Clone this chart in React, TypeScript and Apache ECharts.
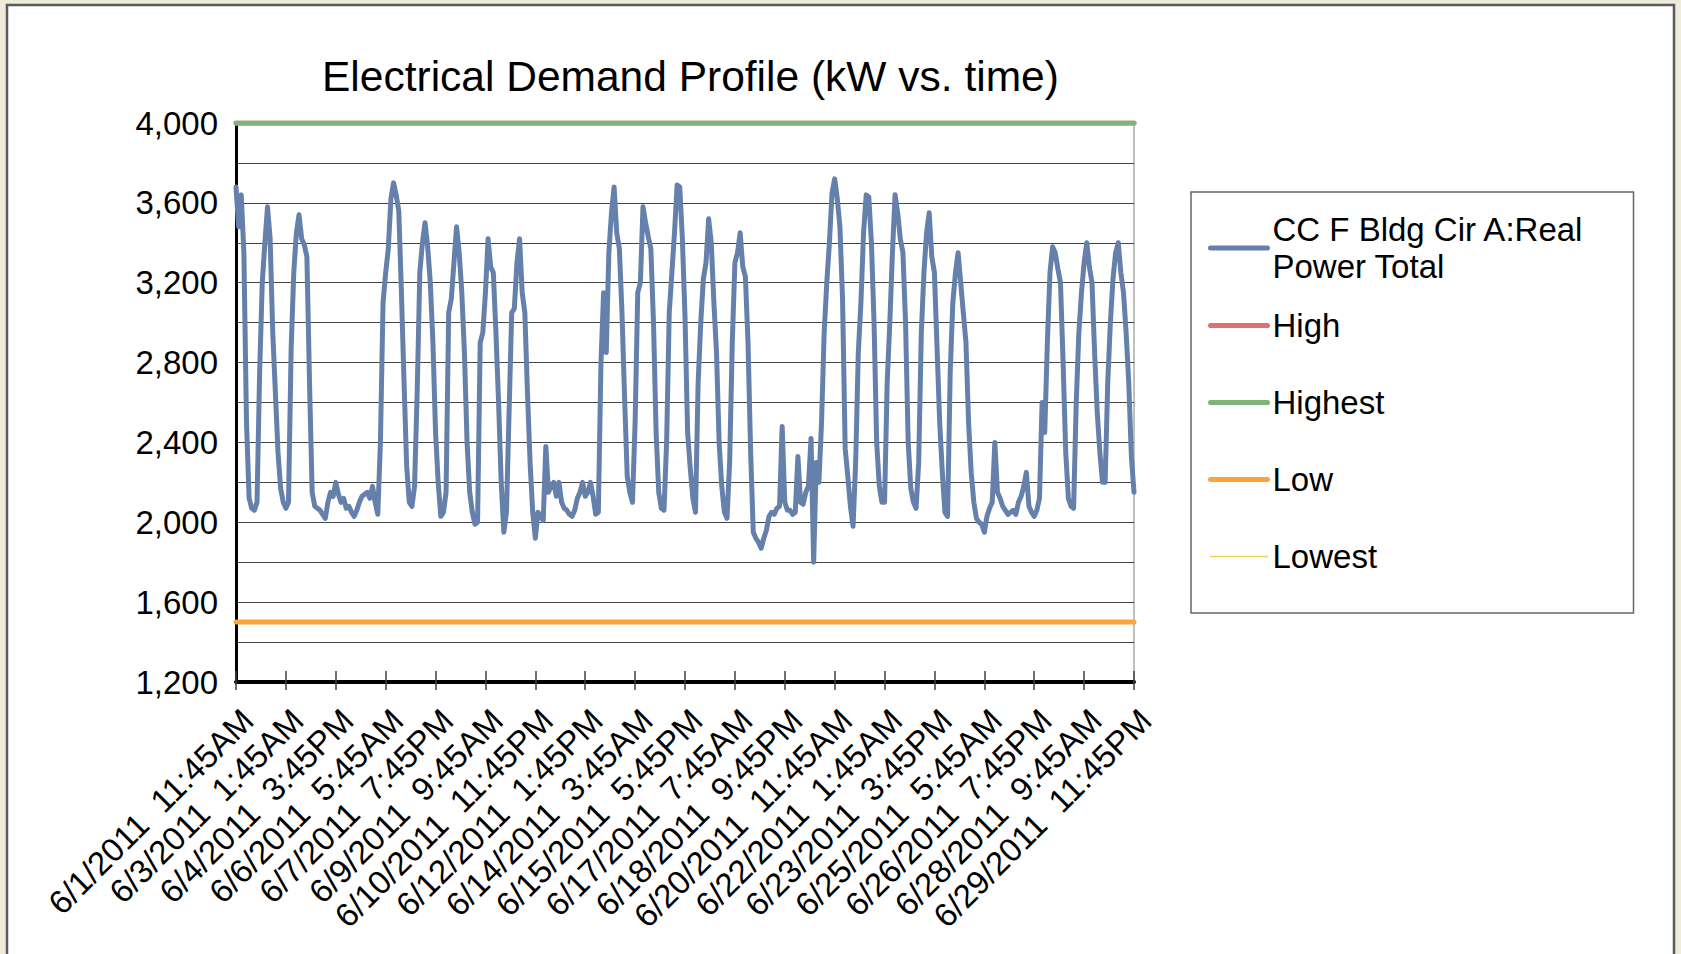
import React, { useEffect, useRef } from 'react';
import * as echarts from 'echarts';

// ---------- data (kW, 2-hour samples) ----------
// 6/1 starts at 11:45AM; every other day runs 1:45AM ... 11:45PM
const JUN01 = [3680, 3480, 3640, 3350, 2500, 2120, 2070];
const JUN02 = [2060, 2100, 2750, 3200, 3400, 3580, 3420, 2950, 2650, 2350, 2170, 2100];
const JUN03 = [2070, 2100, 2870, 3250, 3450, 3540, 3420, 3390, 3330, 2700, 2150, 2080];
const JUN04 = [2070, 2060, 2040, 2020, 2100, 2150, 2130, 2200, 2140, 2100, 2120, 2070];
const JUN05 = [2080, 2050, 2030, 2060, 2100, 2130, 2140, 2150, 2120, 2180, 2100, 2040];
const JUN06 = [2400, 3100, 3250, 3370, 3620, 3700, 3640, 3560, 3150, 2700, 2280, 2100];
const JUN07 = [2080, 2180, 2650, 3250, 3400, 3500, 3380, 3200, 2900, 2450, 2200, 2030];
const JUN08 = [2050, 2150, 3050, 3120, 3300, 3480, 3350, 3150, 2850, 2400, 2150, 2050];
const JUN09 = [1990, 2000, 2900, 2950, 3150, 3420, 3280, 3250, 2950, 2600, 2200, 1950];
const JUN10 = [2050, 2550, 3050, 3070, 3300, 3420, 3150, 3050, 2650, 2300, 2050, 1920];
const JUN11 = [2050, 2030, 2010, 2380, 2150, 2180, 2200, 2130, 2200, 2100, 2070, 2060];
const JUN12 = [2040, 2030, 2060, 2120, 2150, 2200, 2130, 2150, 2200, 2130, 2040, 2050];
const JUN13 = [2800, 3150, 2850, 3350, 3550, 3680, 3450, 3370, 3050, 2620, 2230, 2150];
const JUN14 = [2100, 2500, 3150, 3200, 3580, 3500, 3430, 3370, 3000, 2450, 2150, 2070];
const JUN15 = [2060, 2400, 3050, 3250, 3450, 3690, 3680, 3420, 3030, 2450, 2270, 2120];
const JUN16 = [2050, 2700, 3000, 3220, 3300, 3520, 3400, 3100, 2850, 2400, 2180, 2050];
const JUN17 = [2020, 2300, 2900, 3300, 3350, 3450, 3280, 3230, 2900, 2350, 1950, 1920];
const JUN18 = [1900, 1870, 1920, 1960, 2030, 2050, 2040, 2070, 2080, 2480, 2100, 2060];
const JUN19 = [2060, 2040, 2050, 2330, 2100, 2090, 2150, 2180, 2420, 1800, 2300, 2200];
const JUN20 = [2500, 2950, 3200, 3400, 3650, 3720, 3620, 3480, 3120, 2370, 2230, 2080];
const JUN21 = [1980, 2300, 2850, 3100, 3450, 3640, 3630, 3400, 3000, 2400, 2180, 2100];
const JUN22 = [2100, 2700, 3000, 3350, 3640, 3550, 3420, 3350, 3000, 2400, 2170, 2100];
const JUN23 = [2070, 2300, 2950, 3250, 3450, 3550, 3330, 3250, 2870, 2500, 2250, 2050];
const JUN24 = [2030, 2750, 3100, 3250, 3350, 3200, 3050, 2900, 2500, 2250, 2100, 2020];
const JUN25 = [2000, 1990, 1950, 2030, 2070, 2100, 2400, 2150, 2120, 2080, 2060, 2040];
const JUN26 = [2050, 2060, 2040, 2100, 2130, 2180, 2250, 2080, 2050, 2030, 2060, 2120];
const JUN27 = [2600, 2450, 2900, 3250, 3380, 3350, 3270, 3200, 2800, 2350, 2120, 2080];
const JUN28 = [2070, 2600, 2950, 3150, 3300, 3400, 3280, 3200, 2850, 2550, 2350, 2200];
const JUN29 = [2200, 2700, 3000, 3220, 3350, 3400, 3250, 3150, 2950, 2700, 2330, 2150];

const REAL_POWER_KW = [
  ...JUN01, ...JUN02, ...JUN03, ...JUN04, ...JUN05, ...JUN06, ...JUN07, ...JUN08,
  ...JUN09, ...JUN10, ...JUN11, ...JUN12, ...JUN13, ...JUN14, ...JUN15, ...JUN16,
  ...JUN17, ...JUN18, ...JUN19, ...JUN20, ...JUN21, ...JUN22, ...JUN23, ...JUN24,
  ...JUN25, ...JUN26, ...JUN27, ...JUN28, ...JUN29,
];

// threshold levels (kW)
const HIGH_KW = 4000;
const HIGHEST_KW = 4000;
const LOW_KW = 1500;
const LOWEST_KW = 1500;

// time categories: start 6/1/2011 11:45AM, 2-hour step
const START_MINUTE = 11 * 60 + 45;
const STEP_MINUTES = 120;
const LABEL_EVERY = 19; // one tick label every 38 hours

const Y_MIN = 1200;
const Y_MAX = 4000;
const Y_GRID_STEP = 200;
const Y_LABEL_STEP = 400;

const MAIN_NAME = 'CC F Bldg Cir A:Real Power Total';
const TITLE = 'Electrical Demand Profile (kW vs. time)';

function timeLabel(k: number): string {
  const t = START_MINUTE + k * STEP_MINUTES;
  const day = 1 + Math.floor(t / 1440);
  const m = t % 1440;
  const h = Math.floor(m / 60);
  const mm = m % 60;
  const ampm = h < 12 ? 'AM' : 'PM';
  const h12 = h % 12 === 0 ? 12 : h % 12;
  return `6/${day}/2011  ${h12}:${String(mm).padStart(2, '0')}${ampm}`;
}

const CATEGORIES = REAL_POWER_KW.map((_, k) => timeLabel(k));

const FONT = '"Liberation Sans", Arial, Helvetica, sans-serif';
const BLUE = '#6580AA';
const RED = '#E0716E';
const GREEN = '#80B476';
const ORANGE = '#F9A53C';
const YELLOW = '#E8D44D';
const THICK = 5;

export default function App() {
  const ref = useRef<HTMLDivElement>(null);

  useEffect(() => {
    if (!ref.current) return;
    const chart = echarts.init(ref.current, null, { renderer: 'svg' });

    const lineSeries = (name: string, data: number[], color: string, width: number, z: number) => ({
      name,
      type: 'line',
      data,
      symbol: 'none',
      z,
      lineStyle: { color, width, cap: 'round', join: 'round' },
      itemStyle: { color },
      emphasis: { disabled: true },
    });

    const xTickStyle = { color: '#404040', width: 1.5 };

    chart.setOption({
      animation: false,
      backgroundColor: '#EFEBDA',
      textStyle: { fontFamily: FONT },
      graphic: [
        {
          type: 'rect',
          z: -10,
          silent: true,
          shape: { x: 7, y: 5, width: 1667, height: 1000 },
          style: { fill: '#ffffff', stroke: '#5a5a5a', lineWidth: 2.5 },
        },
      ],
      title: {
        text: TITLE,
        left: 317,
        top: 50,
        textStyle: { fontFamily: FONT, fontSize: 42.5, fontWeight: 'normal', color: '#000' },
      },
      legend: {
        orient: 'vertical',
        left: 1191,
        top: 192,
        padding: [19, 16, 20, 17],
        itemWidth: 57,
        itemHeight: 2,
        itemGap: 4,
        backgroundColor: '#ffffff',
        borderColor: '#666666',
        borderWidth: 1.5,
        selectedMode: false,
        itemStyle: { opacity: 0 },
        lineStyle: { width: THICK, cap: 'round' },
        textStyle: { fontFamily: FONT, fontSize: 33, color: '#000', width: 345, lineHeight: 73 },
        formatter: (n: string) => (n === MAIN_NAME ? 'CC F Bldg Cir A:Real\nPower Total' : n),
        data: [
          { name: MAIN_NAME, textStyle: { lineHeight: 37 } },
          { name: 'High' },
          { name: 'Highest' },
          { name: 'Low' },
          { name: 'Lowest', lineStyle: { width: 1.3 } },
        ],
      },
      grid: {
        left: 236,
        right: 547,
        top: 123,
        bottom: 272,
        show: true,
        borderColor: '#808080',
        borderWidth: 1,
        backgroundColor: 'transparent',
      },
      xAxis: [
        {
          type: 'category',
          data: CATEGORIES,
          boundaryGap: false,
          axisLine: { show: true, lineStyle: { color: '#000', width: 4 } },
          axisTick: { show: true, interval: LABEL_EVERY - 1, length: 8, lineStyle: xTickStyle },
          axisLabel: {
            interval: LABEL_EVERY - 1,
            rotate: 45,
            fontSize: 33,
            color: '#000',
            fontFamily: FONT,
            margin: 21,
            verticalAlign: 'top',
          },
          splitLine: { show: false },
        },
        {
          type: 'category',
          data: CATEGORIES,
          boundaryGap: false,
          position: 'bottom',
          axisLine: { show: false },
          axisLabel: { show: false },
          axisTick: { show: true, inside: true, interval: LABEL_EVERY - 1, length: 11, lineStyle: xTickStyle },
          splitLine: { show: false },
        },
      ],
      yAxis: {
        type: 'value',
        min: Y_MIN,
        max: Y_MAX,
        interval: Y_GRID_STEP,
        axisLine: { show: true, lineStyle: { color: '#000', width: 3 } },
        axisTick: { show: false },
        splitLine: { show: true, lineStyle: { color: '#444444', width: 1 } },
        axisLabel: {
          margin: 18,
          fontSize: 33,
          color: '#000',
          fontFamily: FONT,
          formatter: (v: number) => (v % Y_LABEL_STEP === 0 ? v.toLocaleString('en-US') : ''),
        },
      },
      series: [
        lineSeries(MAIN_NAME, REAL_POWER_KW, BLUE, THICK, 3),
        lineSeries('High', CATEGORIES.map(() => HIGH_KW), RED, THICK, 2),
        lineSeries('Highest', CATEGORIES.map(() => HIGHEST_KW), GREEN, THICK, 5),
        lineSeries('Lowest', CATEGORIES.map(() => LOWEST_KW), YELLOW, 1.3, 2),
        lineSeries('Low', CATEGORIES.map(() => LOW_KW), ORANGE, THICK, 5),
      ],
    });

    return () => chart.dispose();
  }, []);

  return (
    <div
      ref={ref}
      style={{ position: 'fixed', left: 0, top: 0, width: 1681, height: 954 }}
    />
  );
}
